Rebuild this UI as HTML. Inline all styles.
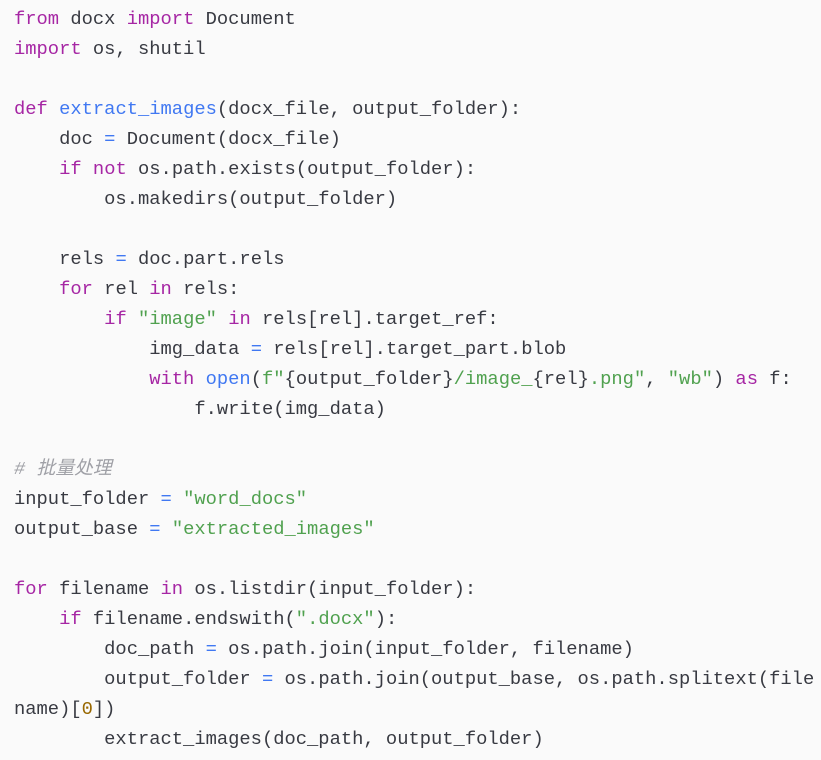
<!DOCTYPE html>
<html><head><meta charset="utf-8"><style>
html,body{margin:0;padding:0;background:#fafafa;width:821px;height:760px;overflow:hidden}
pre{margin:0;padding:4px 0 0 14px;font-family:"Liberation Mono","Noto Sans CJK SC",monospace;font-size:18.8px;line-height:30px;color:#383a42;white-space:pre}
.k{color:#a626a4}.f{color:#4078f2}.s{color:#50a14f}.o{color:#4078f2}.n{color:#986801}.c{color:#a0a1a7;font-style:italic}
</style></head><body><pre><span class="k">from</span> docx <span class="k">import</span> Document
<span class="k">import</span> os, shutil

<span class="k">def</span> <span class="f">extract_images</span>(docx_file, output_folder):
    doc <span class="o">=</span> Document(docx_file)
    <span class="k">if</span> <span class="k">not</span> os.path.exists(output_folder):
        os.makedirs(output_folder)

    rels <span class="o">=</span> doc.part.rels
    <span class="k">for</span> rel <span class="k">in</span> rels:
        <span class="k">if</span> <span class="s">"image"</span> <span class="k">in</span> rels[rel].target_ref:
            img_data <span class="o">=</span> rels[rel].target_part.blob
            <span class="k">with</span> <span class="f">open</span>(<span class="s">f"</span>{output_folder}<span class="s">/image_</span>{rel}<span class="s">.png"</span>, <span class="s">"wb"</span>) <span class="k">as</span> f:
                f.write(img_data)

<span class="c"># 批量处理</span>
input_folder <span class="o">=</span> <span class="s">"word_docs"</span>
output_base <span class="o">=</span> <span class="s">"extracted_images"</span>

<span class="k">for</span> filename <span class="k">in</span> os.listdir(input_folder):
    <span class="k">if</span> filename.endswith(<span class="s">".docx"</span>):
        doc_path <span class="o">=</span> os.path.join(input_folder, filename)
        output_folder <span class="o">=</span> os.path.join(output_base, os.path.splitext(file
name)[<span class="n">0</span>])
        extract_images(doc_path, output_folder)</pre></body></html>
